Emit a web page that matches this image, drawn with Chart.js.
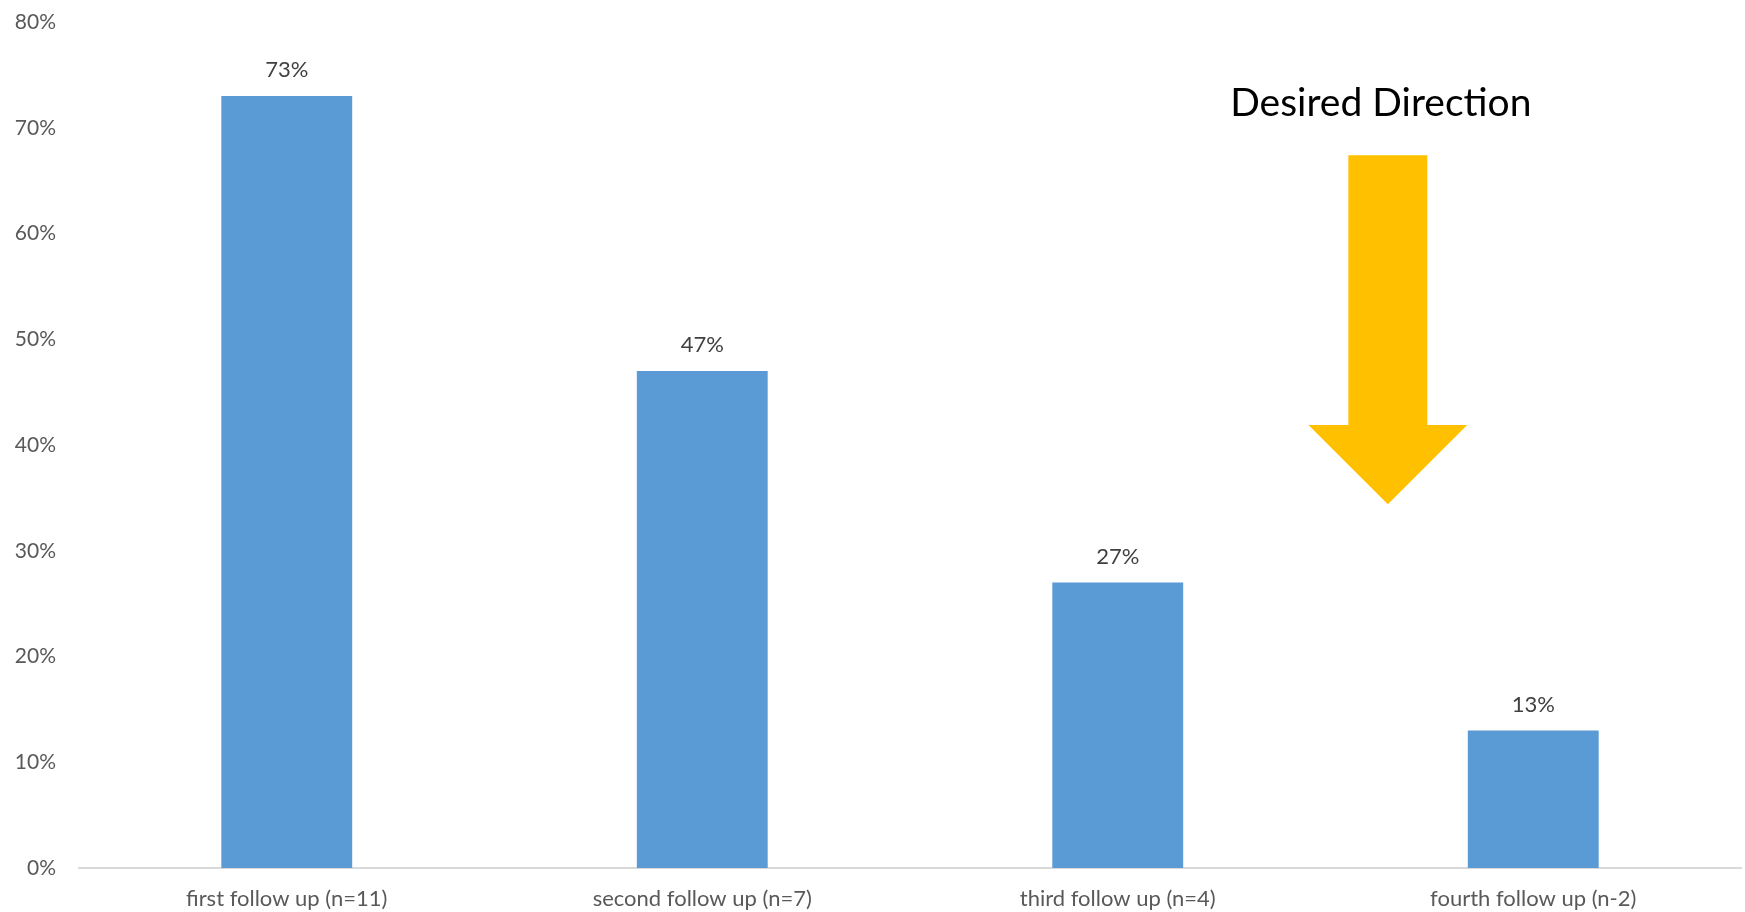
<!DOCTYPE html>
<html>
<head>
<meta charset="utf-8">
<script src="https://cdn.jsdelivr.net/npm/chart.js@4"></script>
<style>
  html, body { margin: 0; padding: 0; background: #fff; }
  #wrap { width: 1745px; height: 912px; }
</style>
</head>
<body>
<div id="wrap"><canvas id="graphe"></canvas></div>
<script>
var categories = ["first follow up (n=11)", "second follow up (n=7)", "third follow up (n=4)", "fourth follow up (n-2)"];
var valeurs    = [0.73, 0.47, 0.27, 0.13];
var ticksY     = [0, 0.1, 0.2, 0.3, 0.4, 0.5, 0.6, 0.7, 0.8];
var titreFleche = "Desired Direction";

var police = "Lato, 'Liberation Sans', sans-serif";

// valeurs au-dessus des barres
var etiquettes = {
  id: "etiquettes",
  afterDatasetsDraw: function(chart) {
    var ctx = chart.ctx;
    var meta = chart.getDatasetMeta(0);
    ctx.save();
    ctx.fillStyle = "#404040";
    ctx.font = "22px " + police;
    ctx.textAlign = "center";
    ctx.textBaseline = "middle";
    meta.data.forEach(function(bar, i) {
      ctx.fillText(Math.round(valeurs[i] * 100) + "%", bar.x, bar.y - 26);
    });
    ctx.restore();
  }
};

// la fleche jaune et son titre, placés sur les échelles
var fleche = {
  id: "fleche",
  afterDraw: function(chart) {
    var ctx = chart.ctx;
    var x = chart.scales.x, y = chart.scales.y;
    var pas   = x.getPixelForValue(3) - x.getPixelForValue(2);
    var cx    = x.getPixelForValue(2.65);
    var demi  = pas * 0.095;
    var demiT = pas * 0.191;
    var haut  = y.getPixelForValue(0.674);
    var col   = y.getPixelForValue(0.419);
    var pointe = y.getPixelForValue(0.344);
    ctx.save();
    ctx.fillStyle = "#FFC000";
    ctx.beginPath();
    ctx.moveTo(cx - demi, haut);
    ctx.lineTo(cx + demi, haut);
    ctx.lineTo(cx + demi, col);
    ctx.lineTo(cx + demiT, col);
    ctx.lineTo(cx, pointe);
    ctx.lineTo(cx - demiT, col);
    ctx.lineTo(cx - demi, col);
    ctx.closePath();
    ctx.fill();
    ctx.fillStyle = "#000";
    ctx.font = "39px " + police;
    ctx.textAlign = "center";
    ctx.textBaseline = "alphabetic";
    ctx.fillText(titreFleche, cx - 7, y.getPixelForValue(0.711));
    ctx.restore();
  }
};

new Chart(document.getElementById("graphe"), {
  type: "bar",
  data: {
    labels: categories,
    datasets: [{
      data: valeurs,
      backgroundColor: "#5B9BD5",
      categoryPercentage: 1,
      barPercentage: 0.315
    }]
  },
  options: {
    responsive: true,
    maintainAspectRatio: false,
    animation: false,
    layout: { padding: { top: 22, right: 4, left: 0, bottom: 0 } },
    plugins: {
      legend: { display: false },
      tooltip: { enabled: false }
    },
    scales: {
      x: {
        grid: { display: false },
        border: { display: true, color: "#D9D9D9", width: 2 },
        ticks: { color: "#595959", font: { family: police, size: 22 }, padding: 10 },
        afterFit: function(s) { s.height = 44; }
      },
      y: {
        min: 0,
        max: 0.8,
        grid: { display: false },
        border: { display: false },
        afterBuildTicks: function(s) {
          s.ticks = ticksY.map(function(v) { return { value: v }; });
        },
        ticks: {
          color: "#595959",
          font: { family: police, size: 21 },
          padding: 15,
          callback: function(v) { return Math.round(v * 100) + "%"; }
        },
        afterFit: function(s) {
          s.width = 79;
          s.paddingTop = 0;
          s.paddingBottom = 0;
        }
      }
    }
  },
  plugins: [etiquettes, fleche]
});
</script>
</body>
</html>
